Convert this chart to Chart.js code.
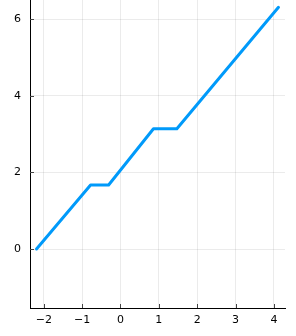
<!DOCTYPE html>
<html>
<head>
<meta charset="utf-8">
<script src="https://cdn.jsdelivr.net/npm/chart.js@4"></script>
<style>
  html, body { margin: 0; padding: 0; background: #fff; }
  #wrap { width: 296px; height: 336px; }
</style>
</head>
<body>
<div id="wrap"><canvas id="c"></canvas></div>
<script>
// values
const xs = [-2.19, -0.78, -0.31, 0.86, 1.47, 4.12];
const ys = [0, 1.67, 1.67, 3.14, 3.14, 6.31];
const xTicks = [-2, -1, 0, 1, 2, 3, 4];
const yTicks = [0, 2, 4, 6];

const points = xs.map((x, i) => ({ x: x, y: ys[i] }));
const fmt = (v) => String(v).replace("-", "\u2212");

// Plots.jl style: short tick marks pointing into the plot area
const innerTicks = {
  id: "innerTicks",
  afterDatasetsDraw(chart) {
    const { ctx, chartArea, scales } = chart;
    ctx.save();
    ctx.strokeStyle = "#444";
    ctx.lineWidth = 1;
    ctx.beginPath();
    for (const v of xTicks) {
      const px = Math.round(scales.x.getPixelForValue(v)) + 0.5;
      ctx.moveTo(px, chartArea.bottom);
      ctx.lineTo(px, chartArea.bottom - 4);
    }
    for (const v of yTicks) {
      const py = Math.round(scales.y.getPixelForValue(v)) + 0.5;
      ctx.moveTo(chartArea.left, py);
      ctx.lineTo(chartArea.left + 4, py);
    }
    ctx.stroke();
    ctx.restore();
  },
};

new Chart(document.getElementById("c"), {
  type: "line",
  data: {
    datasets: [
      {
        data: points,
        borderColor: "#009AFA",
        borderWidth: 3,
        pointRadius: 0,
        fill: false,
        tension: 0,
        borderCapStyle: "round",
        borderJoinStyle: "round",
        clip: false,
      },
    ],
  },
  options: {
    responsive: true,
    maintainAspectRatio: false,
    animation: false,
    layout: { padding: { top: 0, right: 11, left: 0, bottom: 0 } },
    plugins: { legend: { display: false }, tooltip: { enabled: false } },
    scales: {
      x: {
        type: "linear",
        min: -2.36,
        max: 4.29,
        afterBuildTicks: (s) => { s.ticks = xTicks.map((v) => ({ value: v })); },
        afterFit: (s) => {
          s.height = 28;
          s.paddingLeft = 0;
          s.paddingRight = 0;
        },
        grid: { color: "rgba(0,0,0,0.08)", lineWidth: 1, drawTicks: false },
        border: { display: true, color: "#000", width: 1 },
        ticks: {
          padding: 6,
          color: "#000",
          font: { family: "DejaVu Sans", size: 11 },
          maxRotation: 0,
          callback: (v) => fmt(v),
        },
      },
      y: {
        type: "linear",
        min: -1.54,
        max: 6.5,
        afterBuildTicks: (s) => { s.ticks = yTicks.map((v) => ({ value: v })); },
        afterFit: (s) => {
          s.width = 30;
          s.paddingTop = 0;
          s.paddingBottom = 0;
        },
        grid: { color: "rgba(0,0,0,0.08)", lineWidth: 1, drawTicks: false },
        border: { display: true, color: "#000", width: 1 },
        ticks: {
          padding: 9,
          color: "#000",
          font: { family: "DejaVu Sans", size: 11 },
          callback: (v) => fmt(v),
        },
      },
    },
  },
  plugins: [innerTicks],
});
</script>
</body>
</html>
